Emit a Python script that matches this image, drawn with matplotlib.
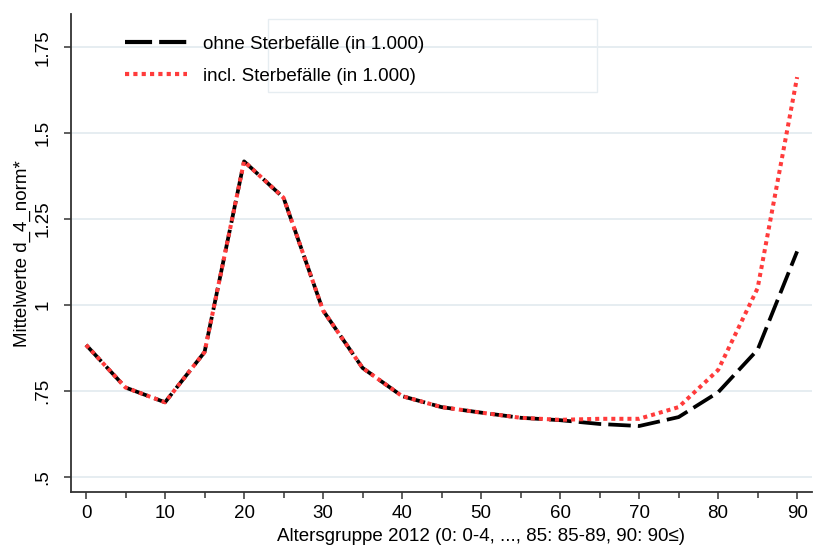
import matplotlib
matplotlib.use("Agg")
import matplotlib.pyplot as plt
from matplotlib.patches import Rectangle
from matplotlib.lines import Line2D

plt.rcParams['font.family'] = ['Liberation Sans', 'DejaVu Sans']

# age groups and mean values
alter = [0, 5, 10, 15, 20, 25, 30, 35, 40, 45, 50, 55, 60, 65, 70, 75, 80, 85, 90]
ohne = [0.884, 0.760, 0.717, 0.863, 1.418, 1.312, 0.984, 0.817, 0.735, 0.703,
        0.687, 0.672, 0.665, 0.654, 0.648, 0.674, 0.746, 0.870, 1.156]
incl = [0.884, 0.760, 0.717, 0.863, 1.418, 1.312, 0.984, 0.817, 0.735, 0.703,
        0.687, 0.672, 0.666, 0.669, 0.669, 0.703, 0.811, 1.049, 1.663]
labels = ['ohne Sterbefälle (in 1.000)', 'incl. Sterbefälle (in 1.000)']
yticks = [0.5, 0.75, 1.0, 1.25, 1.5, 1.75]
ylabels = ['.5', '.75', '1', '1.25', '1.5', '1.75']

fig = plt.figure(figsize=(8.22, 5.47), dpi=100)
ax = fig.add_axes([0.0864, 0.1005, 0.9016, 0.8735])

ax.plot(alter, ohne, color='black', lw=2.7, dashes=(6.0, 1.9),
        solid_capstyle='butt', zorder=3)
ax.plot(alter, incl, color='#ff3b3b', lw=2.9, dashes=(1.0, 1.0), zorder=4)

ax.set_xlim(-1.9, 91.9)
ax.set_ylim(0.456, 1.846)
ax.set_xticks(range(0, 91, 10))
ax.set_xticks(range(5, 91, 10), minor=True)
ax.set_yticks(yticks)
ax.set_yticklabels(ylabels, rotation=90, va='center')
ax.tick_params(axis='both', labelsize=13.5, direction='out', length=5, width=1.1, color='#333333')
ax.tick_params(axis='x', which='minor', length=4, width=1.1, color='#333333')
ax.tick_params(axis='x', pad=4)
ax.tick_params(axis='y', pad=9)
ax.grid(axis='y', color='#e6edf1', lw=1.4)
ax.set_axisbelow(True)

for s in ['top', 'right']:
    ax.spines[s].set_visible(False)
for s in ['left', 'bottom']:
    ax.spines[s].set_color('#333333')
    ax.spines[s].set_linewidth(1.3)

ax.set_xlabel('Altersgruppe 2012 (0: 0-4, ..., 85: 85-89, 90: 90≤)', fontsize=13.5)
ax.set_ylabel('Mittelwerte d_4_norm*', fontsize=13.5)
ax.xaxis.set_label_coords(0.553, -0.075)
ax.yaxis.set_label_coords(-0.054, 0.5)

# faint legend frame as in the original
ax.add_patch(Rectangle((0.266, 0.838), 0.444, 0.153, transform=ax.transAxes,
                       fill=False, ec='#e6edf1', lw=1.0, zorder=1))
handles = [Line2D([], [], color='black', lw=3.0, dashes=(6.5, 1.7), solid_capstyle='butt'),
           Line2D([], [], color='#ff3b3b', lw=3.0, dashes=(1.0, 1.0))]
ax.legend(handles, labels, loc='upper left', bbox_to_anchor=(0.05, 0.99), frameon=False,
          fontsize=13.5, handlelength=3.3, handletextpad=0.85, labelspacing=0.78)

fig.savefig('out.png', dpi=100)
